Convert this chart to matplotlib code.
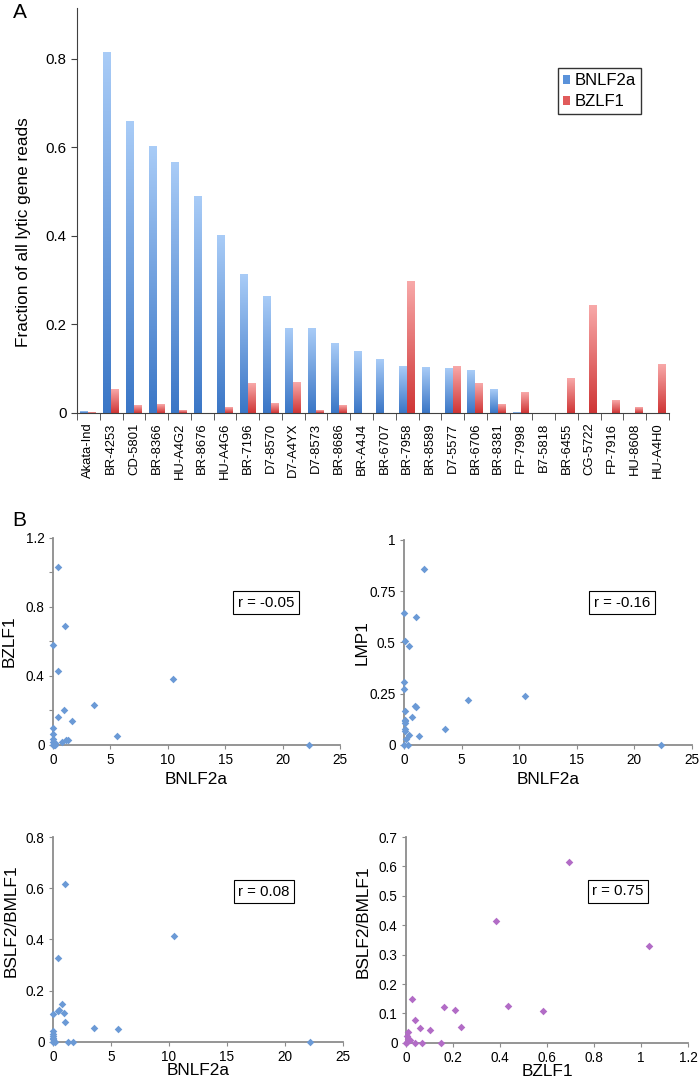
import numpy as np
import matplotlib
matplotlib.use("Agg")
import matplotlib.pyplot as plt
from matplotlib.colors import LinearSegmentedColormap
from matplotlib.patches import Patch

plt.rcParams['font.family'] = ['Liberation Sans', 'DejaVu Sans']

# Panel A : fraction of lytic gene reads per sample
samples = ["Akata-Ind", "BR-4253", "CD-5801", "BR-8366", "HU-A4G2", "BR-8676",
           "HU-A4G6", "BR-7196", "D7-8570", "D7-A4YX", "D7-8573", "BR-8686",
           "BR-A4J4", "BR-6707", "BR-7958", "BR-8589", "D7-5577", "BR-6706",
           "BR-8381", "FP-7998", "B7-5818", "BR-6455", "CG-5722", "FP-7916",
           "HU-8608", "HU-A4H0"]
bnlf2a_frac = [0.004, 0.815, 0.658, 0.602, 0.566, 0.490, 0.402, 0.312, 0.263,
               0.192, 0.190, 0.158, 0.138, 0.122, 0.104, 0.103, 0.101, 0.097,
               0.052, 0.001, 0.0, 0.0, 0.0, 0.0, 0.0, 0.0]
bzlf1_frac = [0.001, 0.053, 0.017, 0.020, 0.005, 0.0, 0.013, 0.066, 0.021,
              0.070, 0.005, 0.017, 0.0, 0.0, 0.296, 0.0, 0.106, 0.066,
              0.020, 0.046, 0.0, 0.078, 0.244, 0.029, 0.012, 0.110]

# Panel B scatter data
bz_vs_bn_x = [0.43, 1.01, 0.0, 0.46, 10.49, 3.55, 0.95, 0.40, 1.68, 0.0, 0.0, 5.58,
              0.0, 1.10, 1.33, 0.75, 0.0, 0.05, 0.10, 0.15, 0.20, 22.3, 0.02]
bz_vs_bn_y = [1.03, 0.69, 0.58, 0.43, 0.38, 0.23, 0.20, 0.16, 0.14, 0.10, 0.065, 0.05,
              0.035, 0.026, 0.026, 0.016, 0.015, 0.005, 0.0, 0.01, 0.0, 0.0, 0.0]

lmp_vs_bn_x = [1.73, 0.03, 1.01, 0.09, 0.43, 0.03, 0.03, 10.53, 5.58, 0.98, 1.07, 0.09,
               0.72, 0.06, 0.09, 0.12, 3.56, 0.06, 0.12, 0.43, 1.27, 0.20, 0.0, 0.38, 22.27]
lmp_vs_bn_y = [0.86, 0.645, 0.625, 0.505, 0.482, 0.306, 0.273, 0.239, 0.218, 0.192, 0.185,
               0.168, 0.137, 0.124, 0.115, 0.105, 0.079, 0.077, 0.069, 0.048, 0.042,
               0.029, 0.0, 0.002, 0.0]

bs_vs_bn_x = [1.01, 0.43, 10.43, 0.75, 0.49, 0.40, 0.95, 0.0, 1.07, 3.55, 5.58, 0.0,
              0.0, 0.0, 0.0, 0.0, 0.05, 0.15, 1.33, 1.70, 22.15, 0.02]
bs_vs_bn_y = [0.615, 0.329, 0.415, 0.148, 0.126, 0.120, 0.114, 0.110, 0.077, 0.054,
              0.052, 0.043, 0.032, 0.023, 0.017, 0.010, 0.004, 0.0, 0.0, 0.0, 0.0, 0.0]

bs_vs_bz_x = [0.692, 0.382, 1.036, 0.026, 0.163, 0.209, 0.436, 0.582, 0.037, 0.060,
              0.236, 0.104, 0.010, 0.003, 0.010, 0.017, 0.038, 0.068, 0.148, 0.0, 0.006]
bs_vs_bz_y = [0.615, 0.413, 0.328, 0.148, 0.121, 0.113, 0.126, 0.108, 0.079, 0.051,
              0.055, 0.044, 0.036, 0.022, 0.013, 0.008, 0.0, 0.0, 0.0, 0.0, 0.002]

fig = plt.figure(figsize=(7, 10.82), dpi=100)

# ---------------- Panel A ----------------
axA = fig.add_axes([0.11, 0.6183, 0.8457, 0.3743])
blue_cmap = LinearSegmentedColormap.from_list("b", ["#3a76c6", "#a9ccf7"])
red_cmap = LinearSegmentedColormap.from_list("r", ["#cf3535", "#f8a9a9"])
grad = np.linspace(0, 1, 256).reshape(-1, 1)

x = np.arange(len(samples))
w = 0.35
bars_b = axA.bar(x - w / 2, bnlf2a_frac, w, color="none")
bars_r = axA.bar(x + w / 2, bzlf1_frac, w, color="none")
for bars, cm in ((bars_b, blue_cmap), (bars_r, red_cmap)):
    for b in bars:
        h = b.get_height()
        if h <= 0:
            continue
        x0 = b.get_x()
        axA.imshow(grad, extent=[x0, x0 + b.get_width(), 0, h], origin="lower",
                   aspect="auto", cmap=cm, zorder=2)

axA.set_xlim(-0.5, len(samples) - 0.5)
axA.set_ylim(0, 0.915)
axA.set_yticks([0, 0.2, 0.4, 0.6, 0.8])
axA.set_yticklabels(["0", "0.2", "0.4", "0.6", "0.8"])
axA.set_xticks(x)
axA.set_xticklabels(samples, rotation=90)
axA.set_xticks(np.arange(len(samples) + 1) - 0.5, minor=True)
axA.tick_params(axis="x", which="major", length=0, pad=7, labelsize=9.4)
axA.tick_params(axis="x", which="minor", length=5, color="#404040")
axA.tick_params(axis="y", length=4, color="#404040", labelsize=10.8)
for s in ("top", "right"):
    axA.spines[s].set_visible(False)
for s in ("left", "bottom"):
    axA.spines[s].set_color("#404040")
axA.set_ylabel("Fraction of all lytic gene reads", fontsize=12.4)
axA.yaxis.set_label_coords(-0.078, 0.447)

handles = [Patch(facecolor="#5a92da", label="BNLF2a"),
           Patch(facecolor="#e15b5b", label="BZLF1")]
leg = fig.legend(handles=handles, loc="upper left", bbox_to_anchor=(0.797, 0.937),
                 fontsize=12, frameon=True, fancybox=False, handlelength=0.45,
                 handleheight=0.45, handletextpad=0.25, borderpad=0.3,
                 labelspacing=0.35, borderaxespad=0)
leg.get_frame().set_edgecolor("black")
leg.get_frame().set_linewidth(1.0)

fig.text(0.019, 0.988, "A", fontsize=15, va="center", ha="left")
fig.text(0.017, 0.519, "B", fontsize=15, va="center", ha="left")

# ---------------- Panel B ----------------
gray = "#8c8c8c"


def scatter_panel(rect, xs, ys, color, xlim, xticks, xlabels, ylim, yticks, ylabels,
                  xlab, ylab, r_text, r_pos, ylab_pos, xlab_y):
    ax = fig.add_axes(rect)
    ax.scatter(xs, ys, marker="D", s=15, color=color, linewidths=0, clip_on=False, zorder=3)
    ax.set_xlim(*xlim)
    ax.set_ylim(*ylim)
    ax.set_xticks(xticks)
    ax.set_xticklabels(xlabels)
    ax.set_yticks(yticks)
    ax.set_yticklabels(ylabels)
    for s in ("top", "right"):
        ax.spines[s].set_visible(False)
    for s in ("left", "bottom"):
        ax.spines[s].set_color(gray)
        ax.spines[s].set_linewidth(1.3)
    ax.tick_params(length=3, color=gray, labelsize=9.8, pad=3)
    ax.set_xlabel(xlab, fontsize=12.4)
    ax.set_ylabel(ylab, fontsize=12.4)
    ax.xaxis.set_label_coords(0.5, xlab_y)
    ax.yaxis.set_label_coords(ylab_pos[0], ylab_pos[1])
    ax.text(r_pos[0], r_pos[1], r_text, transform=ax.transAxes, fontsize=10.8,
            ha="center", va="center",
            bbox=dict(boxstyle="square,pad=0.3", facecolor="white",
                      edgecolor="black", linewidth=0.8))
    return ax


bn_ticks = [0, 5, 10, 15, 20, 25]
bn_labels = ["0", "5", "10", "15", "20", "25"]

scatter_panel([0.0757, 0.3115, 0.41, 0.1913], bz_vs_bn_x, bz_vs_bn_y, "#6b9ad6",
              (0, 25), bn_ticks, bn_labels,
              (0, 1.2), [0, 0.2, 0.4, 0.6, 0.8, 1.0, 1.2], ["0", "", "0.4", "", "0.8", "", "1.2"],
              "BNLF2a", "BZLF1", "r = -0.05", (0.742, 0.686), (-0.125, 0.5), -0.13)

scatter_panel([0.5771, 0.3115, 0.4114, 0.1895], lmp_vs_bn_x, lmp_vs_bn_y, "#6b9ad6",
              (0, 25), bn_ticks, bn_labels,
              (0, 1.0), [0, 0.25, 0.5, 0.75, 1.0], ["0", "0.25", "0.5", "0.75", "1"],
              "BNLF2a", "LMP1", "r = -0.16", (0.757, 0.693), (-0.118, 0.5), -0.13)

scatter_panel([0.0757, 0.0371, 0.4143, 0.1893], bs_vs_bn_x, bs_vs_bn_y, "#6b9ad6",
              (0, 25), bn_ticks, bn_labels,
              (0, 0.8), [0, 0.2, 0.4, 0.6, 0.8], ["0", "0.2", "0.4", "0.6", "0.8"],
              "BNLF2a", "BSLF2/BMLF1", "r = 0.08", (0.728, 0.734), (-0.117, 0.59), -0.105)

scatter_panel([0.58, 0.0362, 0.4029, 0.1902], bs_vs_bz_x, bs_vs_bz_y, "#b26cc6",
              (0, 1.2), [0, 0.2, 0.4, 0.6, 0.8, 1.0, 1.2], ["0", "0.2", "0.4", "0.6", "0.8", "1", "1.2"],
              (0, 0.7), [0, 0.1, 0.2, 0.3, 0.4, 0.5, 0.6, 0.7],
              ["0", "0.1", "0.2", "0.3", "0.4", "0.5", "0.6", "0.7"],
              "BZLF1", "BSLF2/BMLF1", "r = 0.75", (0.752, 0.736), (-0.124, 0.59), -0.105)

fig.savefig("out.png", dpi=100)
